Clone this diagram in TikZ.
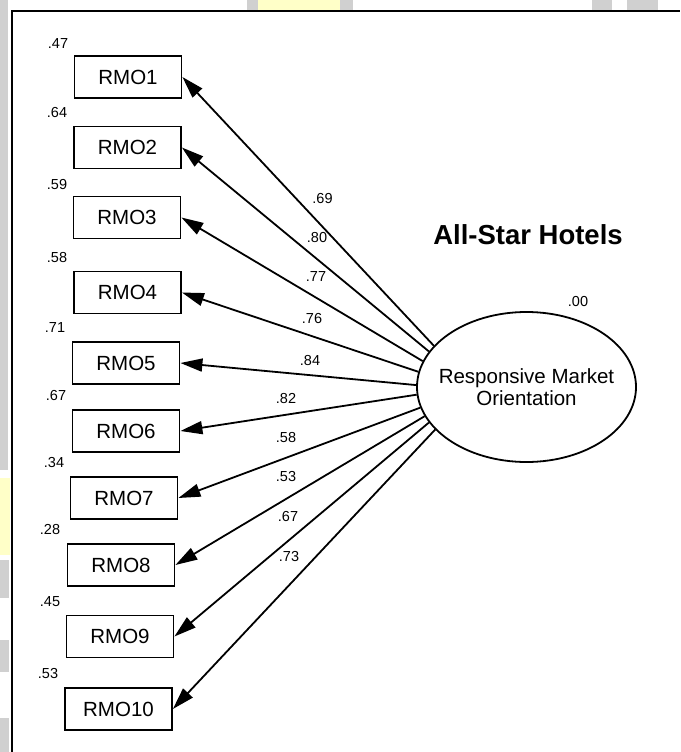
\documentclass[tikz,border=0pt]{standalone}
\usepackage{fontspec}
\setmainfont{Liberation Sans}
\usetikzlibrary{arrows.meta,shapes.geometric}
\definecolor{wmgray}{HTML}{D0D0D0}
\definecolor{wmyellow}{HTML}{FFFFC8}
\begin{document}
\begin{tikzpicture}[x=1pt,y=-1pt,
  obs/.style={draw, line width=1.8pt, minimum width=107pt, minimum height=42pt,
    inner sep=0pt, font=\fontsize{20.5}{24}\selectfont},
  lat/.style={ellipse, draw, line width=1.8pt, minimum width=219pt,
    minimum height=150pt, inner sep=0pt},
  lattext/.style={inner sep=0pt, align=center, font=\fontsize{20.5}{22.5}\selectfont},
  est/.style={inner sep=0pt, font=\fontsize{14.5}{16}\selectfont},
  load/.style={line width=1.8pt, -{Triangle[length=22pt,width=13pt]}},
  heading/.style={inner sep=0pt, font=\fontsize{27.5}{30}\selectfont\bfseries}
]
\useasboundingbox (0,0) rectangle (680,752);
\fill[white] (0,0) rectangle (680,752);

% page margin around the frame
\fill[wmgray]   (0,0)   rectangle (8,470);
\fill[wmyellow] (0,478) rectangle (10,555);
\fill[wmgray]   (0,560) rectangle (9,598);
\fill[wmgray]   (0,640) rectangle (9,672);
\fill[wmgray]   (0,718) rectangle (9,752);
\fill[wmgray]   (247,0) rectangle (258,10);
\fill[wmyellow] (258,0) rectangle (340,10);
\fill[wmgray]   (340,0) rectangle (353,10);
\fill[wmgray]   (592,0) rectangle (612,10);
\fill[wmgray]   (627,0) rectangle (658,10);

% frame
\draw[line width=2pt] (11.5,752) -- (11.5,11.5) -- (680,11.5);

% observed indicators
\node[obs] (rmo1)  at (128,77)    {RMO1};
\node[obs] (rmo2)  at (127.5,147.5) {RMO2};
\node[obs] (rmo3)  at (127,217.5) {RMO3};
\node[obs] (rmo4)  at (127.5,292.5) {RMO4};
\node[obs] (rmo5)  at (126,363)   {RMO5};
\node[obs] (rmo6)  at (126,431)   {RMO6};
\node[obs] (rmo7)  at (124,498)   {RMO7};
\node[obs] (rmo8)  at (121,565)   {RMO8};
\node[obs] (rmo9)  at (120,636.5) {RMO9};
\node[obs] (rmo10) at (118.5,709) {RMO10};

% squared multiple correlations
\node[est] (r1)  at (58,44)  {.47};
\node[est] (r2)  at (57,113) {.64};
\node[est] (r3)  at (57,185) {.59};
\node[est] (r4)  at (57,258) {.58};
\node[est] (r5)  at (55,328) {.71};
\node[est] (r6)  at (56,396) {.67};
\node[est] (r7)  at (54,463) {.34};
\node[est] (r8)  at (50,530) {.28};
\node[est] (r9)  at (50,602) {.45};
\node[est] (r10) at (48,674) {.53};

% latent factor
\node[lat] (rmo) at (526.5,387) {};
\node[lattext] (rmoname) at (rmo.center) {Responsive Market\\Orientation};
\node[est] (rmovar) at (578,302) {.00};

\node[heading] (title) at (528,235) {All-Star Hotels};

% standardized loadings
\draw[load] (rmo.156.6) -- (rmo1.east);
\draw[load] (rmo.160.8) -- (rmo2.east);
\draw[load] (rmo.166.2) -- (rmo3.east);
\draw[load] (rmo.172.6) -- (rmo4.east);
\draw[load] (rmo.179)   -- (rmo5.east);
\draw[load] (rmo.184.4) -- (rmo6.east);
\draw[load] (rmo.191)   -- (rmo7.east);
\draw[load] (rmo.196.2) -- (rmo8.east);
\draw[load] (rmo.200.6) -- (rmo9.east);
\draw[load] (rmo.205.3) -- (rmo10.east);

\node[est] (l1)  at (322.5,199) {.69};
\node[est] (l2)  at (317,238)   {.80};
\node[est] (l3)  at (316,277)   {.77};
\node[est] (l4)  at (312,319)   {.76};
\node[est] (l5)  at (310,361)   {.84};
\node[est] (l6)  at (286,399)   {.82};
\node[est] (l7)  at (286,438)   {.58};
\node[est] (l8)  at (286,477)   {.53};
\node[est] (l9)  at (288,517)   {.67};
\node[est] (l10) at (289,557)   {.73};
\end{tikzpicture}
\end{document}
